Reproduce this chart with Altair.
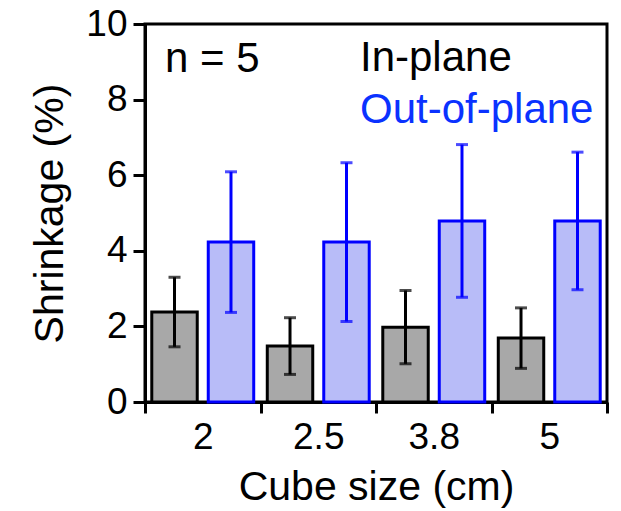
import altair as alt
import pandas as pd

sizes = ["2", "2.5", "3.8", "5"]
series = ["In-plane", "Out-of-plane"]
in_plane_mean = [2.38, 1.48, 1.98, 1.69]
in_plane_err = [0.92, 0.75, 0.97, 0.80]
out_plane_mean = [4.23, 4.23, 4.79, 4.79]
out_plane_err = [1.86, 2.10, 2.02, 1.82]
y_ticks = [0, 2, 4, 6, 8, 10]

rows = []
for s, m, e in zip(sizes, in_plane_mean, in_plane_err):
    rows.append({"size": s, "series": series[0], "mean": m, "lo": m - e, "hi": m + e})
for s, m, e in zip(sizes, out_plane_mean, out_plane_err):
    rows.append({"size": s, "series": series[1], "mean": m, "lo": m - e, "hi": m + e})
df = pd.DataFrame(rows)

FONT = "Liberation Sans"
BLUE = "#0000ff"

xenc = alt.X("size:N", sort=sizes,
             scale=alt.Scale(paddingInner=0, paddingOuter=0),
             axis=alt.Axis(title="Cube size (cm)", labelAngle=0, tickBand="extent",
                           tickSize=11, tickWidth=3, domainWidth=3,
                           labelFontSize=37, labelBaseline="alphabetic", labelPadding=35,
                           titleFontSize=41, titleFontWeight="normal", titleY=97,
                           titleBaseline="alphabetic"))
xoff = alt.XOffset("series:N", sort=series,
                   scale=alt.Scale(paddingInner=0.195, paddingOuter=0.12))
yscale = alt.Scale(domain=[0, 10], nice=False, zero=True)

fill_scale = alt.Scale(domain=series, range=["#a8a8a8", "#b8bcf8"])
stroke_scale = alt.Scale(domain=series, range=["#000000", BLUE])

bars = alt.Chart(df).mark_bar(strokeWidth=3).encode(
    x=xenc,
    xOffset=xoff,
    y=alt.Y("mean:Q", scale=yscale,
            axis=alt.Axis(title="Shrinkage (%)", values=y_ticks, tickSize=12, tickWidth=3,
                          domainWidth=3, grid=False, labelFontSize=37, labelPadding=6,
                          titleFontSize=41, titleFontWeight="normal", titleAngle=-90,
                          titleX=-83, titleY=189, titleAlign="center",
                          titleBaseline="alphabetic")),
    fill=alt.Fill("series:N", scale=fill_scale, legend=None),
    stroke=alt.Stroke("series:N", scale=stroke_scale, legend=None),
)

err = alt.Chart(df).mark_rule(strokeWidth=3).encode(
    x=alt.X("size:N", sort=sizes),
    xOffset=xoff,
    y=alt.Y("lo:Q", scale=yscale),
    y2="hi:Q",
    color=alt.Color("series:N", scale=stroke_scale, legend=None),
)

cap_lo = alt.Chart(df).mark_tick(thickness=3, size=12, orient="horizontal").encode(
    x=alt.X("size:N", sort=sizes),
    xOffset=xoff,
    y=alt.Y("lo:Q", scale=yscale),
    color=alt.Color("series:N", scale=stroke_scale, legend=None),
)
cap_hi = alt.Chart(df).mark_tick(thickness=3, size=12, orient="horizontal").encode(
    x=alt.X("size:N", sort=sizes),
    xOffset=xoff,
    y=alt.Y("hi:Q", scale=yscale),
    color=alt.Color("series:N", scale=stroke_scale, legend=None),
)

ann_df = pd.DataFrame({
    "label": ["n = 5", "In-plane", "Out-of-plane"],
    "xpix": [20, 215, 215],
    "yval": [8.73, 8.76, 7.38],
    "col": ["#000000", "#000000", "#0a32ff"],
})
ann = alt.Chart(ann_df).mark_text(font=FONT, fontSize=42, align="left",
                                  baseline="alphabetic").encode(
    x=alt.X("xpix:Q", scale=None),
    y=alt.Y("yval:Q", scale=yscale),
    text="label:N",
    color=alt.Color("col:N", scale=None),
)

chart = alt.layer(bars, err, cap_lo, cap_hi, ann).properties(
    width=462, height=378,
    autosize=alt.AutoSizeParams(type="none"),
    padding={"left": 145, "top": 24, "right": 14, "bottom": 109},
    background="white",
).configure_view(
    stroke="black", strokeWidth=3
).configure_axis(
    labelFont=FONT, titleFont=FONT, labelColor="black", titleColor="black",
    domainColor="black", tickColor="black",
)

chart.save("out.html", embed_options={"renderer": "svg", "actions": False})
